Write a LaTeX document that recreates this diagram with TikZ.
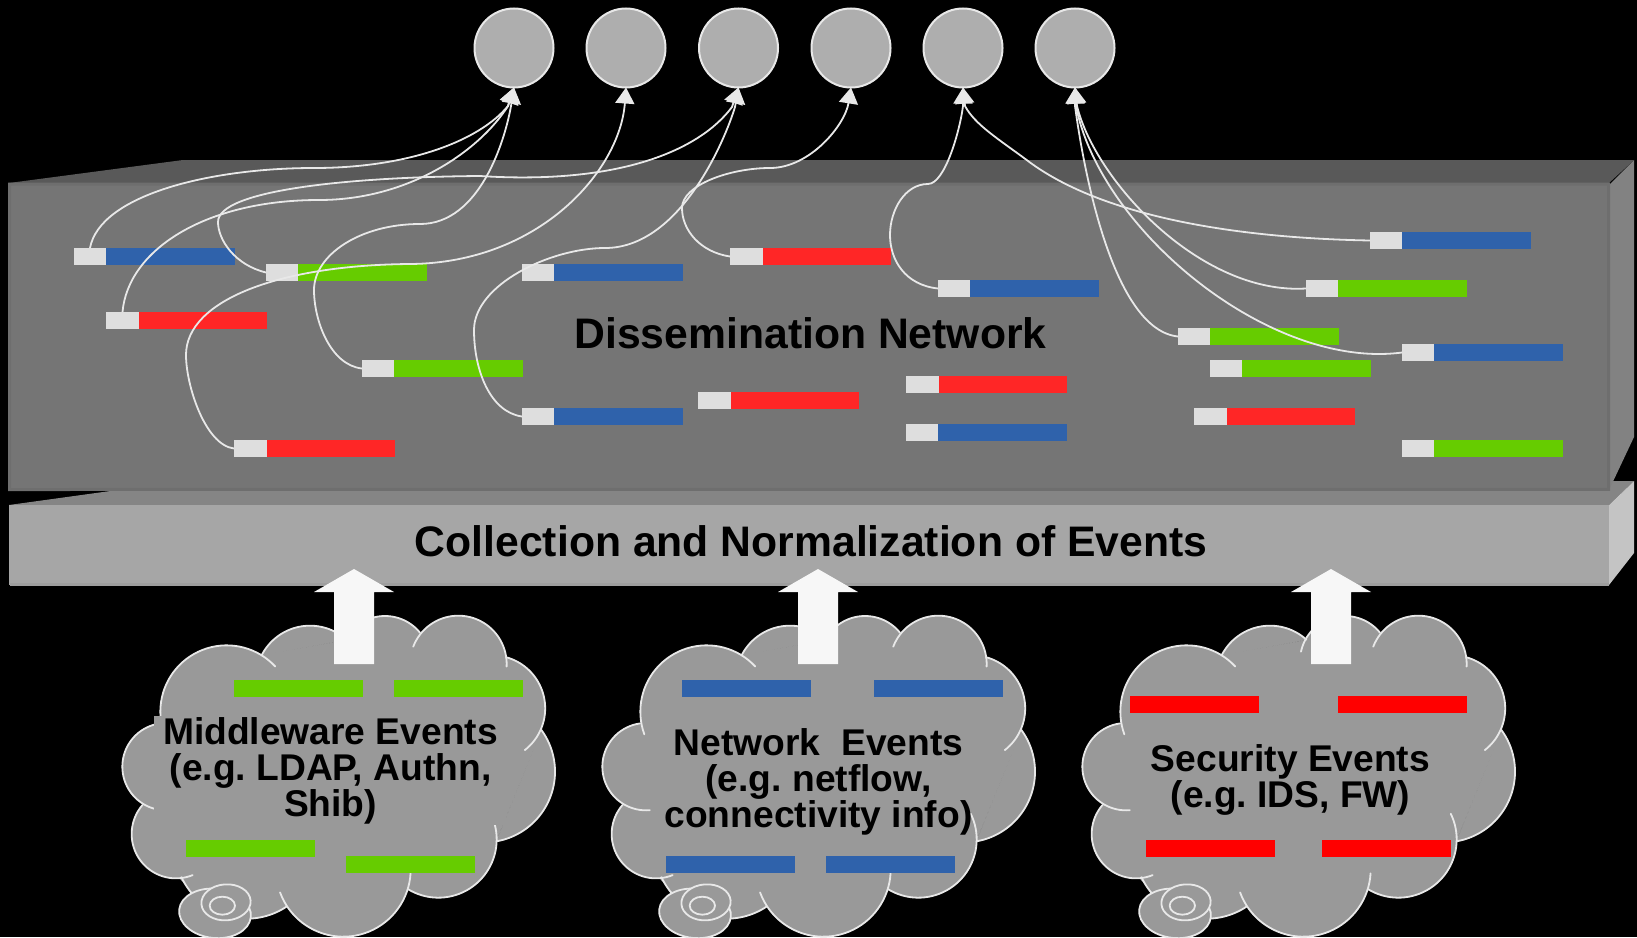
\documentclass[tikz,border=0pt]{standalone}
\usepackage{fontspec}
\setmainfont{Liberation Sans}
\usetikzlibrary{arrows.meta}
\definecolor{barblue}{HTML}{2F62AB}
\definecolor{bargreen}{HTML}{66CC00}
\definecolor{barred}{HTML}{FF2626}
\definecolor{purered}{HTML}{FF0000}
\definecolor{whitepart}{HTML}{DEDEDE}
\definecolor{cloudgray}{HTML}{999999}
\definecolor{edgewhite}{HTML}{E8E8E8}
\definecolor{circgray}{HTML}{AEAEAE}
\tikzset{
  evpart/.style={inner sep=0pt,outer sep=0pt,draw=none,anchor=north west},
  topic/.style={circle,fill=circgray,draw=edgewhite,line width=1pt,minimum size=39.5pt,inner sep=0pt,outer sep=0pt},
  conn/.style={draw=edgewhite,line width=0.9pt,-{Triangle[width=9.5pt,length=8pt,fill=edgewhite]}},
  boldtxt/.style={font=\bfseries\fontsize{18.6}{18}\selectfont\frenchspacing,text=black,align=center,inner sep=0pt},
  bigtxt/.style={font=\bfseries\fontsize{21.35}{24}\selectfont,text=black,anchor=base,inner sep=0pt},
  lobeedge/.style={draw=edgewhite,line width=0.9pt,line cap=round}
}
% bar: white head + coloured tail
\newcommand\evbar[7]{%
  \node[evpart,fill=#7,minimum width={(#4-#3)*0.5pt},minimum height={(#6-#5)*0.5pt}] (#1t) at (#3,#5) {};
  \node[evpart,fill=whitepart,minimum width={(#3-#2)*0.5pt},minimum height={(#6-#5)*0.5pt}] (#1) at (#2,#5) {};
}
\newcommand\cloudbar[6]{%
  \node[evpart,fill=#6,minimum width={(#3-#2)*0.5pt},minimum height={(#5-#4)*0.5pt}] (#1) at (#2,#4) {};
}
% lobe: centre x, centre y, radius, start angle, end angle (y points down)
\newcommand\lobefill[5]{\path[fill=cloudgray,draw=cloudgray,line width=0.4pt] plot[domain=#4:#5,samples=40] ({#1+#3*cos(\x)},{#2+#3*sin(\x)}) -- cycle;}
\newcommand\lobeline[5]{\draw[lobeedge] plot[domain=#4:#5,samples=40] ({#1+#3*cos(\x)},{#2+#3*sin(\x)});}
\newcommand\cloudlobes[1]{%
  #1{380}{455}{199}{160}{317}
  #1{630}{360}{163}{207}{312}
  #1{855}{303}{135}{192}{321}
  #1{1075}{312}{145}{201}{363}
  #1{1176.5}{445}{159}{285}{412}
  #1{1153}{635}{212}{324}{440}
  #1{1015}{838}{175}{-26}{121.5}
  #1{730}{928}{202}{3.4}{160}
  #1{440}{860}{216}{56}{155}
  #1{228}{822}{133}{68}{221}
  #1{198}{620}{131}{85}{262}
}
\newcommand\cloudshape[2]{%
\begin{scope}[shift={(#1,#2)},x=0.16667pt,y=-0.16667pt]
  \path[fill=cloudgray,draw=cloudgray,line width=0.4pt] (180,490)--(485,285)--(745,240)--(960,218)--(1218,292)--(1325,510)--(1190,838)--(925,985)--(560,1040)--(300,1020)--(240,955)--(128,735)--cycle;
  \cloudlobes\lobefill
  \cloudlobes\lobeline
  \draw[lobeedge,fill=cloudgray,rotate around={-6:(345,1060)}] (345,1060) ellipse [x radius=108,y radius=74];
  \draw[lobeedge,fill=cloudgray,rotate around={4:(378,1027)}] (378,1027) ellipse [x radius=74,y radius=54];
  \draw[lobeedge] (367,1037) ellipse [x radius=38,y radius=27];
\end{scope}}
\newcommand\upblock[1]{%
  \fill[white!97!black] (#1,569)--(#1+40,592)--(#1+20,592)--(#1+20,664)--(#1-20,664)--(#1-20,592)--(#1-40,592)--cycle;
}
\begin{document}
\begin{tikzpicture}[x=0.5pt,y=-0.5pt]
\fill[black] (0,0) rectangle (1637,937);
\useasboundingbox (0,0) rectangle (1637,937);
\clip (0,0) rectangle (1637,937);

% lower slab
\fill[black!48] (9,505)--(183,481)--(1634,481)--(1609,505)--cycle;
\fill[black!23] (1609,505)--(1634,481)--(1634,553)--(1609,585)--cycle;
\fill[black!35] (9,505) rectangle (1609,585);
\draw[black!38,line width=1.2pt] (10,584.5) -- (1609,584.5);
% upper slab
\fill[black!65] (9,183)--(183,160)--(1634,160)--(1609,183)--cycle;
\fill[black!49] (1609,185)--(1634,160)--(1634,437)--(1609,490)--cycle;
\fill[black!54] (9,183) rectangle (1609,490);
\draw[black!57,line width=1.5pt] (9.7,489.5) -- (9.7,184) -- (1608.5,184) -- (1608.5,489.3) -- cycle;

% topic circles
\foreach \n/\x in {c1/514,c2/626,c3/738.5,c4/851,c5/963,c6/1075}
  \node[topic] (\n) at (\x,48) {};

% bars
\evbar{b1}{74}{106}{235}{248}{265}{barblue}
\evbar{b2}{266}{298}{427}{264}{281}{bargreen}
\evbar{b3}{106}{139}{267}{312}{329}{barred}
\evbar{b4}{362}{394}{523}{360}{377}{bargreen}
\evbar{b5}{234}{267}{395}{440}{457}{barred}
\evbar{b6}{522}{554}{683}{264}{281}{barblue}
\evbar{b7}{522}{554}{683}{408}{425}{barblue}
\evbar{b8}{730}{763}{891}{248}{265}{barred}
\evbar{b9}{698}{731}{859}{392}{409}{barred}
\evbar{b10}{938}{970}{1099}{280}{297}{barblue}
\evbar{b11}{906}{939}{1067}{376}{393}{barred}
\evbar{b12}{906}{938}{1067}{424}{441}{barblue}
\evbar{b13}{1370}{1402}{1531}{232}{249}{barblue}
\evbar{b14}{1306}{1338}{1467}{280}{297}{bargreen}
\evbar{b15}{1178}{1210}{1339}{328}{345}{bargreen}
\evbar{b16}{1402}{1434}{1563}{344}{361}{barblue}
\evbar{b17}{1210}{1242}{1371}{360}{377}{bargreen}
\evbar{b18}{1194}{1227}{1355}{408}{425}{barred}
\evbar{b19}{1402}{1434}{1563}{440}{457}{bargreen}

% connectors
\draw[conn] (b1.north) .. controls (100,195) and (210,168) .. (314,168) .. controls (410,168) and (480,140) .. (508,106) -- (c1.south);
\draw[conn] (b3.north) .. controls (128,250) and (205,200) .. (319,200) .. controls (410,200) and (480,150) .. (508,106) -- (c1.south);
\draw[conn] (b2.west) .. controls (235,265) and (218,240) .. (218,222) .. controls (218,190) and (350,177) .. (480,176) .. controls (620,185) and (700,150) .. (732,107) -- (c3.south);
\draw[conn] (b4.west) .. controls (330,365) and (314,320) .. (314,290) .. controls (314,255) and (360,224) .. (420,224) .. controls (480,224) and (505,140) .. (511,106) -- (c1.south);
\draw[conn] (b5.west) .. controls (205,445) and (186,385) .. (186,355) .. controls (186,300) and (280,265) .. (410,264) .. controls (540,263) and (620,170) .. (c2.south);
\draw[conn] (b7.west) .. controls (490,412) and (474,370) .. (474,330) .. controls (474,285) and (550,248) .. (605,248) .. controls (680,248) and (725,140) .. (735,107) -- (c3.south);
\draw[conn] (b8.west) .. controls (700,252) and (682,230) .. (682,208) .. controls (682,185) and (730,168) .. (770,168) .. controls (810,168) and (845,125) .. (c4.south);
\draw[conn] (b10.west) .. controls (905,285) and (890,260) .. (890,235) .. controls (890,210) and (905,184) .. (928,184) .. controls (945,184) and (960,130) .. (963,106) -- (c5.south);
\draw[conn] (b13.west) .. controls (1230,238) and (1100,215) .. (1028,161) .. controls (1000,140) and (975,125) .. (965,106) -- (c5.south);
\draw[conn] (b14.west) .. controls (1200,295) and (1095,180) .. (1077,106) -- (c6.south);
\draw[conn] (b16.west) .. controls (1270,370) and (1100,230) .. (1076,106) -- (c6.south);
\draw[conn] (b15.west) .. controls (1115,330) and (1085,180) .. (1075,106) -- (c6.south);

% slab labels
\node[bigtxt] (dn) at (810.5,348) {Dissemination Network};
\node[bigtxt] (cn) at (811,556.5) {Collection and Normalization of Events};

% clouds
\cloudshape{100}{560}
\cloudshape{580}{560}
\cloudshape{1060}{560}

\node[fill=cloudgray,inner sep=0pt,minimum width=176pt,minimum height=54.5pt,anchor=north west] (t1box) at (154,716) {};
\node[boldtxt] (t1) at (330.5,770.5) {Middleware Events\\(e.g. LDAP, Authn,\\Shib)};
\node[boldtxt] (t2) at (818.5,782) {Network\ \ Events\\(e.g. netflow,\\connectivity info)};
\node[boldtxt] (t3) at (1290.5,780) {Security Events\\(e.g. IDS, FW)};

\cloudbar{g1}{234}{363}{680}{697}{bargreen}
\cloudbar{g2}{394}{523}{680}{697}{bargreen}
\cloudbar{g3}{186}{315}{840}{857}{bargreen}
\cloudbar{g4}{346}{475}{856}{873}{bargreen}
\cloudbar{n1}{682}{811}{680}{697}{barblue}
\cloudbar{n2}{874}{1003}{680}{697}{barblue}
\cloudbar{n3}{666}{795}{856}{873}{barblue}
\cloudbar{n4}{826}{955}{856}{873}{barblue}
\cloudbar{s1}{1130}{1259}{696}{713}{purered}
\cloudbar{s2}{1338}{1467}{696}{713}{purered}
\cloudbar{s3}{1146}{1275}{840}{857}{purered}
\cloudbar{s4}{1322}{1451}{840}{857}{purered}

\upblock{354}
\upblock{818}
\upblock{1331}
\end{tikzpicture}
\end{document}
